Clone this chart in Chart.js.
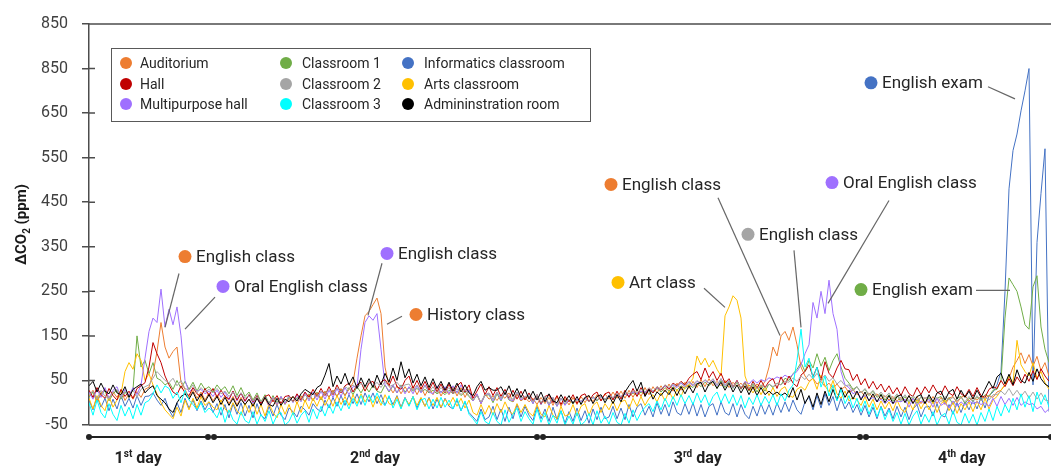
<!DOCTYPE html>
<html>
<head>
<meta charset="utf-8">
<script src="https://cdn.jsdelivr.net/npm/chart.js@4.4.1/dist/chart.umd.min.js"></script>
<style>
  html, body { margin: 0; padding: 0; background: #fff; }
</style>
</head>
<body>
<canvas id="co2Chart" width="1051" height="467"></canvas>
<script>
// ΔCO2 over four school days, one reading every sample step
const roomNames = ["Auditorium", "Hall", "Multipurpose hall", "Classroom 1", "Classroom 2",
                   "Classroom 3", "Informatics classroom", "Arts classroom", "Admininstration room"];

const yTickText = ["-50", "50", "150", "250", "350", "450", "550", "650", "850", "850"];

const auditorium = [
  15, 28, 5, 22, 30, 8, 24, 12, 28, 5,
  20, 8, 25, 12, 30, 35, 65, 115, 180, 125,
  100, 115, 125, 45, 30, 12, 28, 10, 24, 6,
  22, 4, 18, 2, 16, -2, 14, -5, 12, -4,
  8, -6, 12, -5, 10, -8, 8, -6, 12, -3,
  8, 14, -2, 15, 2, 18, 5, 22, 8, 25,
  12, 28, 14, 32, 16, 30, 45, 100, 150, 195,
  205, 220, 235, 200, 80, 38, 22, 38, 20, 36,
  22, 38, 18, 36, 16, 34, 18, 36, 15, 32,
  18, 36, 15, 34, 12, 30, 5, 18, -2, 20,
  8, 15, 5, 18, 10, 22, 2, 20, 4, 12,
  2, 10, -4, 12, -2, 12, -6, 14, -8, 10,
  -5, 12, -4, 14, 0, 16, 2, 18, 4, 20,
  8, 24, 10, 26, 10, 28, 12, 30, 14, 34,
  18, 36, 22, 38, 24, 42, 26, 44, 28, 46,
  32, 48, 34, 52, 36, 54, 38, 48, 38, 50,
  34, 46, 36, 44, 32, 40, 30, 42, 34, 48,
  80, 125, 105, 150, 160, 140, 170, 130, 80, 60,
  48, 55, 42, 48, 36, 44, 32, 42, 30, 36,
  22, 30, 18, 26, 14, 22, 12, 20, 8, 16,
  6, 14, 4, 12, 2, 16, 0, 14, -2, 12,
  0, 14, -2, 12, -4, 10, 14, 0, 12, 16,
  4, 12, 6, 14, 10, 16, 12, 24, 28, 40,
  55, 80, 95, 112, 88, 108, 82, 104, 72, 90, 60
];

const hall = [
  28, 12, 34, 18, 10, 32, 16, 6, 30, 14,
  26, 10, 32, 38, 45, 80, 135, 110, 90, 60,
  40, 24, 18, 38, 22, 16, 34, 20, 14, 32,
  16, 32, 12, 28, 14, 8, 26, 6, 22, 4,
  18, 2, 16, -2, 14, 18, 2, 16, -2, 14,
  16, 2, 20, 6, 24, 12, 30, 14, 32, 16,
  36, 18, 40, 22, 38, 44, 24, 40, 46, 26,
  44, 48, 28, 46, 52, 38, 60, 36, 30, 50,
  60, 32, 50, 30, 48, 28, 46, 24, 42, 22,
  42, 20, 38, 46, 24, 40, 10, 26, 42, 18,
  36, 16, 34, 14, 30, 10, 28, 8, 26, 6,
  22, 4, 18, -2, 14, 18, 0, 16, -4, 14,
  2, 18, -2, 16, 20, 2, 18, 24, 4, 20,
  24, 6, 26, 8, 28, 12, 32, 14, 34, 16,
  32, 22, 36, 28, 40, 30, 44, 38, 48, 40,
  55, 64, 70, 52, 78, 56, 70, 50, 66, 44,
  54, 36, 50, 32, 46, 28, 48, 32, 50, 34,
  48, 54, 32, 58, 40, 60, 44, 36, 62, 70,
  85, 58, 80, 50, 92, 66, 56, 78, 95, 76,
  74, 50, 64, 40, 54, 32, 48, 30, 42, 24,
  38, 20, 34, 16, 36, 20, 14, 34, 18, 36,
  22, 40, 24, 18, 38, 22, 16, 36, 20, 14,
  30, 14, 34, 16, 12, 30, 36, 32, 50, 36,
  54, 38, 58, 44, 64, 48, 72, 52, 76, 60, 48
];

const multipurposeHall = [
  24, 8, 30, 12, 34, 10, 28, 36, 12, 30,
  16, 34, 18, 40, 100, 160, 190, 180, 255, 170,
  210, 175, 215, 150, 50, 24, 32, 26, 30, 20,
  26, 14, 28, 12, 24, 6, 26, 4, 22, 2,
  18, -2, 16, -4, 14, -6, 12, -4, 14, -2,
  16, 0, 18, 2, 22, 4, 24, 6, 26, 8,
  28, 12, 32, 14, 34, 18, 36, 35, 120, 180,
  195, 185, 200, 120, 40, 26, 40, 22, 38, 20,
  36, 20, 38, 22, 40, 24, 20, 38, 22, 36,
  20, 38, 22, 40, 24, 28, 4, 20, -2, 18,
  20, 4, 24, 6, 26, 8, 4, 24, 6, 14,
  16, -2, 18, -4, 14, -6, 12, -8, 10, -6,
  8, 0, 8, 2, 10, 4, 12, 6, 14, 8,
  16, 10, 18, 14, 20, 16, 24, 20, 26, 22,
  30, 24, 34, 28, 38, 32, 40, 34, 44, 36,
  46, 38, 48, 42, 50, 44, 52, 38, 54, 38,
  50, 34, 50, 32, 48, 42, 52, 44, 52, 48,
  56, 52, 58, 54, 62, 56, 64, 70, 85, 110,
  130, 225, 190, 250, 200, 275, 200, 165, 70, 40,
  34, 20, 26, 10, 16, 6, 12, 2, 8, -2,
  6, -2, 4, 2, 8, -10, 10, -6, 4, -2,
  8, -10, 10, -6, 0, -12, 4, -8, 2, -6,
  4, -2, 2, -4, 0, -8, 10, -8, 14, -4,
  10, -6, 12, -6, 2, -4, -2, -14, -8, -22, -14
];

const classroom1 = [
  12, 24, 2, 20, 26, 4, 20, 28, 8, 24,
  12, 30, 150, 80, 95, 65, 90, 55, 50, 40,
  46, 30, 50, 32, 48, 30, 46, 26, 44, 30,
  36, 24, 40, 28, 36, 20, 38, 16, 34, 14,
  24, 6, 22, 2, 18, -2, 16, 0, 14, -4,
  12, 4, 10, 16, 2, 20, 4, 24, 6, 26,
  12, 28, 14, 30, 16, 34, 18, 36, 22, 38,
  24, 40, 26, 22, 40, 24, 38, 22, 40, 24,
  34, 26, 32, 24, 30, 22, 28, 20, 26, 18,
  28, 20, 26, 16, 24, 14, 4, 18, -2, 16,
  18, 0, 20, 4, 24, 6, 2, 20, 4, 12,
  14, -2, 16, -4, 12, -6, 10, -8, 10, -4,
  6, -2, 8, 0, 10, 2, 12, 4, 14, 6,
  16, 8, 18, 12, 20, 14, 22, 16, 24, 20,
  28, 22, 32, 24, 34, 26, 36, 28, 38, 32,
  40, 34, 44, 36, 46, 38, 48, 32, 50, 34,
  48, 32, 46, 30, 44, 26, 42, 24, 40, 26,
  42, 34, 44, 40, 55, 50, 65, 75, 90, 70,
  95, 78, 110, 82, 102, 72, 95, 110, 80, 55,
  44, 30, 36, 22, 30, 16, 26, 12, 20, 6,
  18, 4, 16, 2, 14, 0, 12, -2, 14, 0,
  12, -2, 10, 14, 0, 12, -4, 10, 14, -2,
  10, 4, 12, 6, 18, 14, 28, 30, 50, 190,
  280, 265, 250, 215, 175, 165, 260, 285, 170, 120, 90
];

const classroom2 = [
  18, 26, 8, 28, 14, 10, 24, 30, 12, 26,
  14, 28, 12, 30, 36, 40, 55, 70, 60, 50,
  45, 55, 38, 50, 32, 28, 40, 22, 34, 24,
  30, 22, 32, 20, 26, 14, 24, 12, 22, 10,
  16, 4, 14, 2, 12, 0, 12, -2, 10, 2,
  14, 2, 12, 4, 18, 8, 22, 14, 26, 18,
  30, 20, 34, 24, 36, 30, 40, 32, 44, 34,
  48, 36, 46, 34, 48, 36, 40, 46, 34, 40,
  42, 28, 40, 26, 38, 24, 36, 22, 34, 24,
  34, 20, 32, 18, 30, 16, 6, 16, 2, 18,
  22, 8, 24, 10, 26, 12, 8, 24, 10, 14,
  16, 2, 18, 0, 14, -2, 12, -4, 10, 0,
  8, 2, 6, 4, 12, 2, 14, 6, 16, 8,
  16, 12, 20, 14, 24, 20, 26, 22, 30, 24,
  34, 26, 36, 30, 40, 34, 42, 36, 46, 38,
  48, 40, 50, 42, 52, 44, 54, 40, 54, 40,
  50, 36, 48, 34, 46, 32, 44, 32, 40, 34,
  42, 36, 44, 40, 48, 46, 56, 48, 60, 52,
  64, 54, 66, 52, 62, 48, 56, 42, 50, 38,
  40, 26, 36, 22, 32, 18, 28, 14, 24, 12,
  22, 8, 20, 6, 18, 4, 16, 6, 12, 10,
  14, 4, 12, 2, 14, 6, 12, 4, 12, 2,
  14, 2, 16, 4, 12, 6, 18, 18, 26, 18,
  32, 16, 28, 14, 26, 10, 24, 8, 22, 6, 4
];

const classroom3 = [
  0, -28, 6, -22, -34, -2, -26, -40, -6, -30,
  -10, -36, -4, -28, 0, 5, 20, 40, 22, 38,
  32, 10, 24, 0, 28, 6, -4, -16, 0, -22,
  -12, -20, -34, -10, -44, -16, -38, -48, -20, -40,
  -46, -20, -48, -26, -42, -18, -48, -28, -22, -50,
  -42, -22, -46, -28, -18, -44, -14, -36, -8, -30,
  -4, -24, 2, -18, 6, -14, 10, -8, 16, -6,
  18, 0, 22, 2, -6, 16, -12, 8, -14, 10,
  -8, 14, -16, 6, 10, -14, 8, -12, 12, -10,
  6, -14, 10, -18, 4, -26, -36, -48, -20, -42,
  -48, -22, -42, -50, -16, -44, -26, -12, -42, -20,
  -36, -48, -14, -44, -22, -50, -28, -46, -18, -50,
  -30, -48, -22, -50, -42, -24, -50, -18, -46, -30,
  -48, -22, -44, -50, -24, -46, -16, -40, -22, -10,
  -2, -20, 4, -16, 10, -10, 14, -6, 18, -2,
  16, -4, 22, 0, 18, -6, 14, 24, 0, 20,
  -2, 18, -6, 16, -12, 12, -4, 18, -6, 14,
  -2, 18, -6, 20, 4, 28, 40, 95, 165, 80,
  100, 55, 80, 35, 60, 15, 40, 4, 30, -2,
  16, -12, 10, -20, 4, -26, -2, -32, -10, -38,
  -16, -42, -22, -48, -24, -50, -30, -18, -48, -26,
  -44, -20, -50, -30, -24, -48, -18, -44, -50, -24,
  -46, -26, -50, -22, -42, -14, -40, -8, -30, -4,
  -22, 10, -16, 20, -10, 16, -20, 24, -4, 18, -10
];

const informatics = [
  6, -16, 14, -10, 10, -18, 8, -14, 16, -8,
  10, -12, 16, -6, 14, 15, 22, 6, -6, 10,
  -16, -32, 0, -22, 10, -12, 6, -18, 4, -16,
  2, -22, -2, -28, -4, -34, -2, -26, 0, -30,
  -6, -34, -2, -28, -36, -8, -30, -4, -28, -38,
  -12, -20, -32, -8, -16, -28, -2, -14, -20, 6,
  -12, 12, -8, 16, -6, 18, -2, 20, -4, 22,
  2, 22, -2, 18, -6, 14, -4, 16, -10, 12,
  -6, 14, -12, 10, -8, 12, -14, 8, -12, 10,
  -8, -14, 6, -18, 2, -22, -32, -42, -14, -38,
  -32, -8, -38, -14, -42, -10, -36, -4, -32, -8,
  -28, -40, -8, -36, -14, -42, -10, -38, -18, -46,
  -20, -42, -12, -40, -18, -46, -14, -38, -10, -36,
  -32, -8, -36, -12, -38, -4, -32, -10, -2, -28,
  -8, -32, 0, -26, -4, -30, 2, -22, -28, -2,
  -26, 0, -30, -4, -32, -8, -2, -28, 2, -22,
  -28, -2, -32, -4, -26, -36, -8, -30, -2, -26,
  -4, -28, 0, -22, 2, -20, 6, -16, -26, 2,
  12, -16, 16, -12, 20, -6, 14, -18, 10, -14,
  2, -22, -4, -28, -6, -32, -10, -36, -8, -30,
  -12, -36, -8, -32, -10, -38, -14, -4, -32, -10,
  -8, -30, -2, -28, -32, -4, -26, 0, -22, 2,
  -16, 6, -14, 12, -12, 16, 24, 40, 70, 250,
  480, 566, 603, 655, 700, 750, 40, 360, 470, 570, -20
];

const artsClassroom = [
  10, -14, 16, -6, -18, 14, -10, 6, 20, 70,
  90, 75, 110, 95, 50, 65, 40, 20, 0, -16,
  -26, -36, -10, -30, 6, -16, 10, -12, 14, -6,
  2, -10, -16, 6, -14, -22, 0, -18, -28, -2,
  -22, 2, -26, -4, -30, -2, -22, -34, -4, -26,
  -4, -28, 2, -22, 6, -14, 10, -8, 14, -6,
  12, -8, 16, -4, 14, -6, 18, -2, 20, 2,
  16, -10, 14, -6, 18, -2, -6, 14, -12, 10,
  -4, 14, -6, 12, -8, 10, -6, 12, -10, 8,
  -6, 12, -8, 10, -12, 6, -22, -28, -4, -26,
  -6, -28, -2, -22, 2, -18, -26, -2, -22, -4,
  -22, -30, -4, -26, -32, -6, -28, -36, -8, -30,
  -26, -4, -30, -8, -2, -28, -6, 2, -22, -2,
  -16, 4, -18, 2, 6, -14, 10, -8, 14, -6,
  10, 18, 2, 22, 4, 26, 8, 30, 14, 36,
  40, 55, 105, 85, 100, 80, 95, 75, 60, 195,
  215, 240, 230, 190, 60, 35, 22, 38, 18, 36,
  16, 34, 14, 30, 36, 16, 12, 30, 36, 28,
  46, 55, 30, 62, 38, 24, 50, 20, 10, 26,
  4, 12, 6, -6, 14, -10, 8, -16, 4, -14,
  2, -18, 6, -14, -22, 2, -16, 8, -14, 4,
  -16, 4, -22, -2, 6, -18, 2, -24, -2, -16,
  2, -20, 4, -16, 10, -14, 6, 14, 28, 40,
  60, 45, 140, 85, 70, 60, 90, 55, 70, 45, 30
];

const administration = [
  38, 48, 24, 44, 26, 20, 40, 22, 18, 36,
  12, 30, 36, 42, 22, 32, 38, 16, 8, 0,
  -14, -22, 0, 14, 20, 8, 24, 4, 20, 2,
  18, 0, 14, -4, 12, -6, 10, -8, 8, -4,
  8, -8, 10, -6, 12, -4, -8, 10, -6, 8,
  2, 14, 4, 20, 30, 24, 18, 34, 40, 62,
  88, 36, 60, 42, 66, 40, 58, 32, 56, 36,
  54, 34, 62, 40, 66, 46, 78, 50, 92, 56,
  76, 44, 64, 38, 58, 34, 54, 32, 48, 28,
  46, 26, 44, 24, 40, 22, 16, 36, 48, 28,
  34, 28, 28, 36, 18, 38, 14, 32, 12, 30,
  8, 26, 6, 24, 2, 20, 4, 0, 18, 2,
  16, -2, 14, -4, 12, 16, -2, 14, 18, 0,
  16, -2, 18, 2, 24, 38, 50, 26, 46, 14,
  30, 8, 24, 16, 28, 18, 34, 16, 36, 20,
  38, 22, 42, 46, 24, 42, 48, 32, 46, 28,
  44, 24, 40, 22, 38, 18, 36, 16, 34, 18,
  26, 18, 24, 16, 22, 12, 34, 6, 30, -2,
  16, -10, 22, -4, 26, 2, 30, 6, 34, 12,
  28, 8, 26, 6, 24, 4, 20, 2, 18, 0,
  16, -2, 14, 18, 0, 16, -2, 14, 18, -2,
  18, 2, 22, 26, 6, 24, 30, 8, 28, 12,
  26, 8, 28, 12, 30, 48, 32, 58, 66, 42,
  64, 40, 74, 50, 44, 68, 48, 76, 54, 42, 36
];

// day brackets below the axis, in sample units
const dayNumbers = ["1", "2", "3", "4"];
const daySuffix = ["st", "nd", "rd", "th"];
const dayStart = [0, 31.25, 113.5, 194.25];
const dayEnd = [29.75, 112, 192.75, 240.5];
const dayLabelAt = [12.3, 71.5, 152.2, 218.2];

const seriesValues = [auditorium, hall, multipurposeHall, classroom1, classroom2,
                      classroom3, informatics, artsClassroom, administration];
const seriesColors = ["#ed7d31", "#c00000", "#9f70ff", "#70ad47", "#a5a5a5",
                      "#00ffff", "#4472c4", "#ffc000", "#000000"];
// lower order is drawn on top
const drawOrder = [7, 4, 5, 8, 3, 1, 9, 6, 2];

const sampleIndex = auditorium.map((_, i) => i);

// event call-outs: dot position, then the leader line, all in data units
const notes = [
  { text: "English class", color: "#ed7d31", dot: [24, 328], from: [22.5, 290], to: [19, 169] },
  { text: "Oral English class", color: "#9f70ff", dot: [33.5, 261], from: [31.5, 237], to: [24, 165] },
  { text: "English class", color: "#9f70ff", dot: [74.5, 335], from: [73.25, 313], to: [69.75, 196] },
  { text: "History class", color: "#ed7d31", dot: [81.75, 198], from: [78.25, 194], to: [74.5, 176] },
  { text: "English class", color: "#ed7d31", dot: [130.5, 490], from: [157.25, 460], to: [172.75, 151] },
  { text: "English class", color: "#a5a5a5", dot: [164.75, 378], from: [176.25, 342], to: [178, 169] },
  { text: "Art class", color: "#ffc000", dot: [132.25, 270], from: [153.75, 257], to: [159, 214] },
  { text: "Oral English class", color: "#9f70ff", dot: [185.75, 494], from: [200, 454], to: [184.75, 223] },
  { text: "English exam", color: "#70ad47", dot: [193, 254], from: [221.75, 252], to: [230.25, 252] },
  { text: "English exam", color: "#4472c4", dot: [195.5, 718], from: [224.75, 709], to: [231.5, 682] }
];

const decorations = {
  id: "decorations",
  afterDatasetsDraw(chart) {
    const { ctx, chartArea: area, scales: { x, y } } = chart;
    const px = (p) => [x.getPixelForValue(p[0]), y.getPixelForValue(p[1])];
    ctx.save();

    // top and bottom frame lines plus inner tick stubs
    ctx.strokeStyle = "#4d4d4d";
    ctx.lineWidth = 1.5;
    ctx.beginPath();
    ctx.moveTo(area.left, area.top);
    ctx.lineTo(chart.width, area.top);
    ctx.moveTo(area.left, area.bottom);
    ctx.lineTo(chart.width, area.bottom);
    y.ticks.forEach((t) => {
      const py = y.getPixelForValue(t.value);
      ctx.moveTo(area.left, py);
      ctx.lineTo(area.left + 6, py);
    });
    ctx.stroke();

    // call-outs
    ctx.font = "17px Roboto";
    ctx.textBaseline = "middle";
    notes.forEach((n) => {
      const [dx, dy] = px(n.dot);
      const [fx, fy] = px(n.from);
      const [tx, ty] = px(n.to);
      ctx.strokeStyle = "#666";
      ctx.lineWidth = 1.2;
      ctx.beginPath();
      ctx.moveTo(fx, fy);
      ctx.lineTo(tx, ty);
      ctx.stroke();
      ctx.fillStyle = n.color;
      ctx.beginPath();
      ctx.arc(dx, dy, 6.5, 0, Math.PI * 2);
      ctx.fill();
      ctx.fillStyle = "#262626";
      ctx.fillText(n.text, dx + 11, dy + 1);
    });

    // legend box
    ctx.fillStyle = "#fff";
    ctx.fillRect(111, 48, 479, 73);
    ctx.strokeStyle = "#595959";
    ctx.lineWidth = 1;
    ctx.strokeRect(111.5, 48.5, 479, 73);
    const colDot = [126, 286, 408];
    const colText = [140, 302, 424];
    const rowY = [63, 84, 104];
    ctx.font = "14px Roboto";
    chart.data.datasets.forEach((ds, i) => {
      const c = Math.floor(i / 3), r = i % 3;
      ctx.fillStyle = ds.borderColor;
      ctx.beginPath();
      ctx.arc(colDot[c], rowY[r], 6, 0, Math.PI * 2);
      ctx.fill();
      ctx.fillStyle = "#262626";
      ctx.fillText(ds.label, colText[c], rowY[r] + 1);
    });

    // day brackets
    const by = area.bottom + 12;
    ctx.strokeStyle = "#222";
    ctx.fillStyle = "#222";
    ctx.lineWidth = 2;
    dayNumbers.forEach((d, i) => {
      const x0 = x.getPixelForValue(dayStart[i]);
      const x1 = x.getPixelForValue(dayEnd[i]);
      ctx.beginPath();
      ctx.moveTo(x0, by);
      ctx.lineTo(x1, by);
      ctx.stroke();
      [x0, x1].forEach((xx) => {
        ctx.beginPath();
        ctx.arc(xx, by, 3, 0, Math.PI * 2);
        ctx.fill();
      });
      const big = "bold 16px Roboto", small = "bold 10px Roboto";
      ctx.font = big;
      const wNum = ctx.measureText(d).width;
      const wDay = ctx.measureText(" day").width;
      ctx.font = small;
      const wSup = ctx.measureText(daySuffix[i]).width;
      const lx = x.getPixelForValue(dayLabelAt[i]) - (wNum + wSup + wDay) / 2;
      const ly = by + 21;
      ctx.textBaseline = "alphabetic";
      ctx.font = big;
      ctx.fillText(d, lx, ly + 5);
      ctx.font = small;
      ctx.fillText(daySuffix[i], lx + wNum, ly - 1);
      ctx.font = big;
      ctx.fillText(" day", lx + wNum + wSup, ly + 5);
    });

    // y axis title with subscript
    ctx.translate(22, (area.top + area.bottom) / 2);
    ctx.rotate(-Math.PI / 2);
    ctx.fillStyle = "#1a1a1a";
    ctx.textBaseline = "middle";
    ctx.font = "bold 15px Roboto";
    const a = "ΔCO", b = " (ppm)";
    const wa = ctx.measureText(a).width, wb = ctx.measureText(b).width;
    ctx.font = "bold 10px Roboto";
    const ws = ctx.measureText("2").width;
    const sx = -(wa + ws + wb) / 2;
    ctx.font = "bold 15px Roboto";
    ctx.fillText(a, sx, 0);
    ctx.font = "bold 10px Roboto";
    ctx.fillText("2", sx + wa, 5);
    ctx.font = "bold 15px Roboto";
    ctx.fillText(b, sx + wa + ws, 0);

    ctx.restore();
  }
};

const ctx = document.getElementById("co2Chart").getContext("2d");

new Chart(ctx, {
  type: "line",
  data: {
    datasets: seriesValues.map((vals, i) => ({
      label: roomNames[i],
      data: vals.map((v, k) => ({ x: sampleIndex[k], y: v })),
      borderColor: seriesColors[i],
      backgroundColor: seriesColors[i],
      borderWidth: 1,
      pointRadius: 0,
      tension: 0,
      order: drawOrder[i]
    }))
  },
  options: {
    responsive: false,
    animation: false,
    layout: { padding: { top: 24, right: 2, bottom: 42, left: 0 } },
    plugins: {
      legend: { display: false },
      tooltip: { enabled: false }
    },
    scales: {
      x: { type: "linear", min: 0, max: 240, display: false },
      y: {
        min: -50,
        max: 850,
        ticks: {
          stepSize: 100,
          padding: 14,
          color: "#404040",
          font: { family: "Roboto", size: 16 },
          callback: (v) => yTickText[Math.round((v + 50) / 100)]
        },
        grid: { drawOnChartArea: false, tickLength: 7, color: "#4d4d4d", lineWidth: 1.5 },
        border: { color: "#4d4d4d", width: 1.5 },
        afterFit(scale) {
          scale.width = 89;
          scale.paddingTop = 0;
          scale.paddingBottom = 0;
        }
      }
    }
  },
  plugins: [decorations]
});
</script>
</body>
</html>
